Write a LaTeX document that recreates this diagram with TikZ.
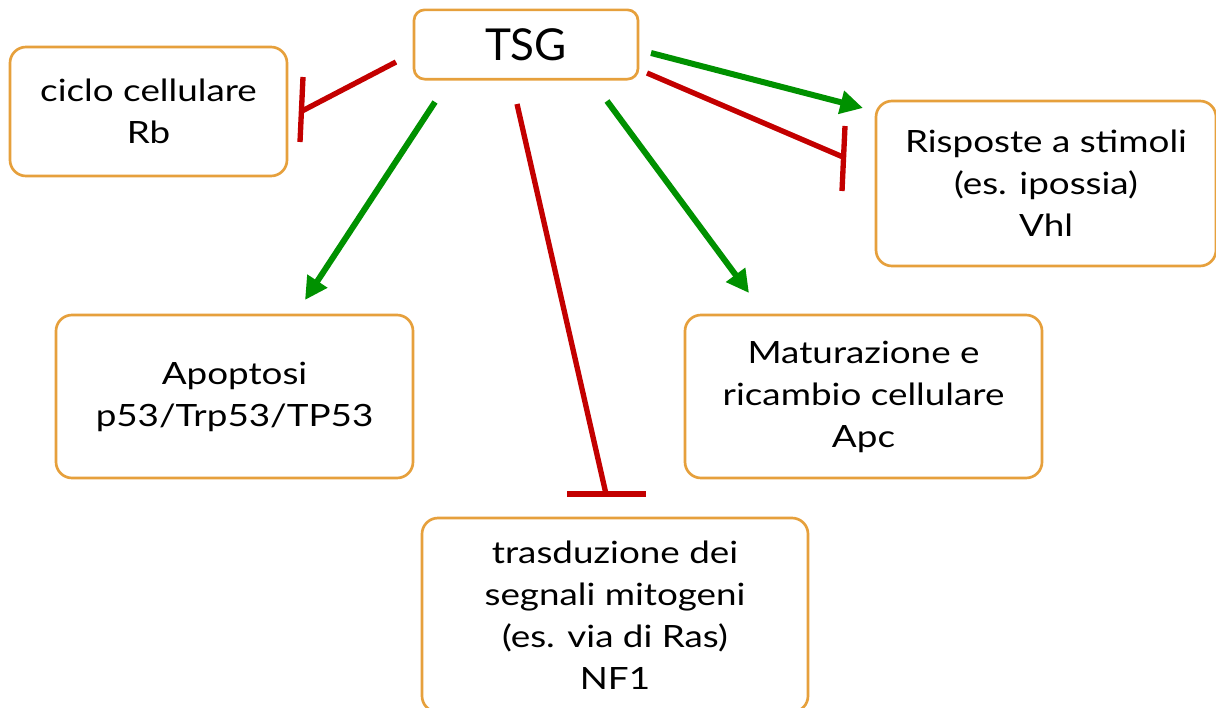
\documentclass[tikz,border=0pt]{standalone}
\usepackage{fontspec}
\setmainfont{Lato}[FakeStretch=1.2]
\newfontfamily\tsgfont{Lato}
\usetikzlibrary{arrows.meta}
\definecolor{boxorange}{RGB}{230,160,60}
\definecolor{actgreen}{RGB}{0,145,0}
\definecolor{inhred}{RGB}{195,0,0}
\begin{document}
\begin{tikzpicture}[x=0.75pt,y=-0.75pt,
  box/.style={draw=boxorange,line width=2pt,rounded corners=12pt,fill=white,
    inner sep=0pt,align=center,font=\fontsize{23}{31.5}\selectfont},
  act/.style={draw=actgreen,line width=4.5pt,-{Triangle[length=17pt,width=17pt]}},
  inh/.style={draw=inhred,line width=4pt}]
\useasboundingbox (0,0) rectangle (1216,707);
\begin{scope}
\clip (0,0) rectangle (1216,707);
\node[box,rounded corners=8pt,minimum width=168pt,minimum height=52pt,font=\tsgfont\fontsize{33}{40}\selectfont] (tsg) at (526,44.5) {TSG};
\node[box,minimum width=207.75pt,minimum height=96.75pt] (cc) at (148.5,111.5) {ciclo cellulare\\Rb};
\node[box,minimum width=255pt,minimum height=123.75pt] (ris) at (1046,183.5) {Risposte a stimoli\\(es. ipossia)\\Vhl};
\node[box,minimum width=267.75pt,minimum height=122.25pt] (apo) at (234.5,396.5) {Apoptosi\\p53/Trp53/TP53};
\node[box,minimum width=267.75pt,minimum height=122.25pt] (mat) at (863.5,396.5) {Maturazione e\\ricambio cellulare\\Apc};
\node[box,minimum width=289.5pt,minimum height=145.5pt] (tra) at (615,615) {trasduzione dei\\segnali mitogeni\\(es. via di Ras)\\NF1};
\end{scope}
% coordinates
\coordinate (c1s) at (396,62);  \coordinate (c1e) at (302,111);
\coordinate (c1a) at (303,77);  \coordinate (c1b) at (300,142);
\coordinate (a1s) at (435,102); \coordinate (a1e) at (305,300);
\coordinate (t1s) at (517,104); \coordinate (t1e) at (606,494);
\coordinate (t1a) at (567,494); \coordinate (t1b) at (646,494);
\coordinate (m1s) at (607,101); \coordinate (m1e) at (749,293);
\coordinate (r1s) at (651,53);  \coordinate (r1e) at (863,108);
\coordinate (r2s) at (647,73);  \coordinate (r2e) at (843,157);
\coordinate (r2a) at (845,126); \coordinate (r2b) at (842,191);
% connectors
\draw[inh] (c1s) -- (c1e);
\draw[inh] (c1a) -- (c1b);
\draw[act] (a1s) -- (a1e);
\draw[inh] (t1s) -- (t1e);
\draw[inh] (t1a) -- (t1b);
\draw[act] (m1s) -- (m1e);
\draw[act] (r1s) -- (r1e);
\draw[inh] (r2s) -- (r2e);
\draw[inh] (r2a) -- (r2b);
\end{tikzpicture}
\end{document}
